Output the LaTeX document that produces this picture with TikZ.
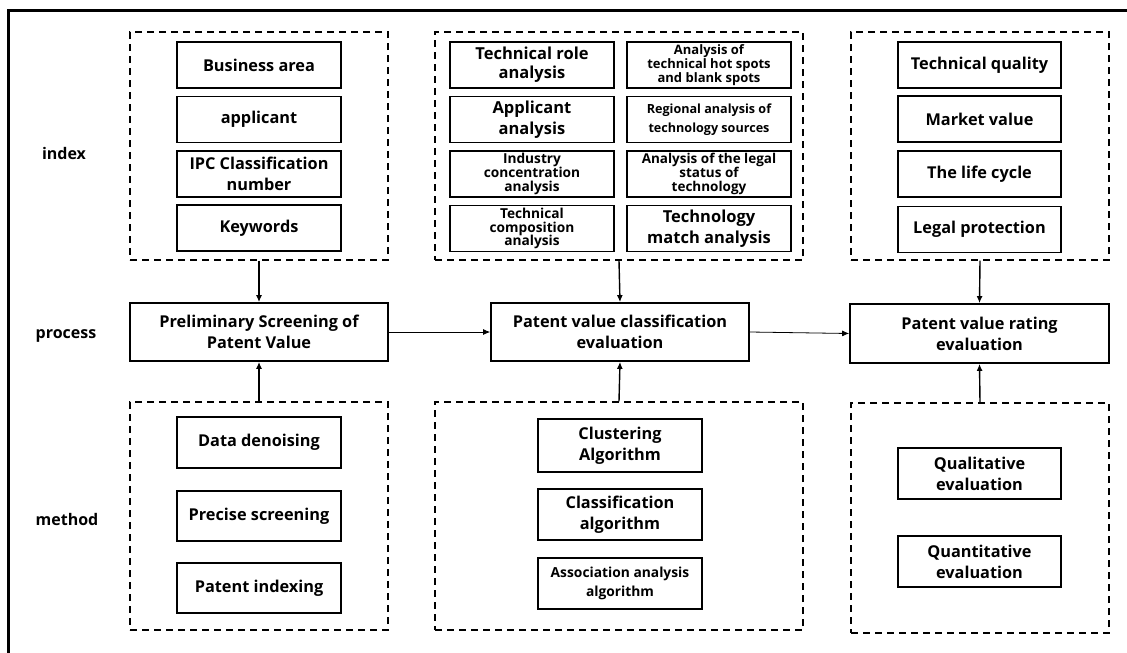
\documentclass[tikz,border=0pt]{standalone}
\usepackage{fontspec}
\setmainfont{Open Sans}
\usetikzlibrary{arrows.meta}
\newcommand{\fs}[2]{\fontsize{#1}{#2}\selectfont}
\tikzset{
  x=1pt,y=-1pt,
  inbox/.style={draw, line width=1.7pt, align=center, inner sep=0pt, font=\bfseries\fs{16.3}{21}},
  grp/.style={draw, line width=1.4pt, dash pattern=on 7pt off 5pt, inner sep=0pt},
  procbox/.style={draw, line width=1.7pt, align=center, inner sep=0pt, minimum width=258pt, minimum height=58pt, font=\bfseries\fs{16.3}{21}},
  rowlab/.style={font=\bfseries\fs{16}{18}},
  varr/.style={line width=1.4pt, -{Latex[length=7pt,width=6pt]}},
  harr/.style={line width=0.8pt, -{Latex[length=7pt,width=6pt]}},
}
\begin{document}
\begin{tikzpicture}
\useasboundingbox (0,0) rectangle (1127,653);
% outer frame (top and left edges visible)
\draw[line width=3pt] (8,660) -- (8,10) -- (1135,10);

% row labels
\node[rowlab] (lidx) at (64,153) {index};
\node[rowlab] (lproc) at (66,336) {process};
\node[rowlab] (lmet) at (67,519) {method};

% ---------- column 1 ----------
\node[grp, minimum width=258pt, minimum height=228pt] (idx1) at (259,146) {};
\node[inbox, minimum width=164pt, minimum height=46pt] (b11) at (259,65) {Business area};
\node[inbox, minimum width=164pt, minimum height=46pt] (b12) at (259,119.5) {applicant};
\node[inbox, minimum width=164pt, minimum height=46pt] (b13) at (259,174) {IPC Classification\\number};
\node[inbox, minimum width=164pt, minimum height=46pt] (b14) at (259,228) {Keywords};

\node[procbox] (proc1) at (259,332) {Preliminary Screening of\\Patent Value};

\node[grp, minimum width=258pt, minimum height=228pt] (met1) at (259,516) {};
\node[inbox, minimum width=164pt, minimum height=51pt] (m11) at (259,442.5) {Data denoising};
\node[inbox, minimum width=164pt, minimum height=50pt] (m12) at (259,516) {Precise screening};
\node[inbox, minimum width=164pt, minimum height=50pt] (m13) at (259,588) {Patent indexing};

% ---------- column 2 ----------
\node[grp, minimum width=368pt, minimum height=228pt] (idx2) at (619,146) {};
\node[inbox, minimum width=164pt, minimum height=46pt, font=\bfseries\fs{16.5}{19}] (c11) at (532,65) {Technical role\\analysis};
\node[inbox, minimum width=164pt, minimum height=46pt, font=\bfseries\fs{16.5}{21}] (c12) at (532,119.5) {Applicant\\analysis};
\node[inbox, minimum width=164pt, minimum height=46pt, font=\bfseries\fs{13.7}{13.8}] (c13) at (532,174) {Industry\\concentration\\analysis};
\node[inbox, minimum width=164pt, minimum height=46pt, font=\bfseries\fs{13.7}{13.8}] (c14) at (532,228.5) {Technical\\composition\\analysis};
\node[inbox, minimum width=164pt, minimum height=46pt, font=\bfseries\fs{13}{13.8}] (c21) at (709,65) {Analysis of\\technical hot spots\\and blank spots};
\node[inbox, minimum width=164pt, minimum height=46pt, font=\bfseries\fs{12.6}{19}] (c22) at (709,119.5) {Regional analysis of\\technology sources};
\node[inbox, minimum width=164pt, minimum height=46pt, font=\bfseries\fs{13.5}{14}] (c23) at (709,174) {Analysis of the legal\\status of\\technology};
\node[inbox, minimum width=164pt, minimum height=46pt, font=\bfseries\fs{16.5}{21}] (c24) at (709,228.5) {Technology\\match analysis};

\node[procbox] (proc2) at (620,332) {Patent value classification\\evaluation};

\node[grp, minimum width=368pt, minimum height=228pt] (met2) at (619,516) {};
\node[inbox, minimum width=164pt, minimum height=53pt] (m21) at (620,445.5) {Clustering\\Algorithm};
\node[inbox, minimum width=164pt, minimum height=51pt] (m22) at (620,514.5) {Classification\\algorithm};
\node[inbox, minimum width=164pt, minimum height=51pt, font=\bfseries\fs{13.8}{19}] (m23) at (620,583.5) {Association analysis\\algorithm};

% ---------- column 3 ----------
\node[grp, minimum width=258pt, minimum height=228pt] (idx3) at (980,146) {};
\node[inbox, minimum width=163pt, minimum height=46pt] (d11) at (979.5,65) {Technical quality};
\node[inbox, minimum width=163pt, minimum height=46pt] (d12) at (979.5,119) {Market value};
\node[inbox, minimum width=163pt, minimum height=46pt] (d13) at (979.5,174) {The life cycle};
\node[inbox, minimum width=163pt, minimum height=46pt] (d14) at (979.5,229.5) {Legal protection};

\node[procbox, minimum width=259pt, minimum height=59pt] (proc3) at (979.5,333.5) {Patent value rating\\evaluation};

\node[grp, minimum width=258pt, minimum height=230pt] (met3) at (980,518) {};
\node[inbox, minimum width=163pt, minimum height=51pt] (m31) at (979.5,473.5) {Qualitative\\evaluation};
\node[inbox, minimum width=163pt, minimum height=51pt] (m32) at (979.5,561.5) {Quantitative\\evaluation};

% ---------- connectors ----------
\draw[varr] (idx1.south) -- (proc1.north);
\draw[varr] (met1.north) -- (proc1.south);
\draw[varr] (idx2.south) -- (proc2.north);
\draw[varr] (met2.north) -- (proc2.south);
\draw[varr] (idx3.south) -- (proc3.north);
\draw[varr] (met3.north) -- (proc3.south);
\draw[harr] (proc1.east) -- (proc2.west);
\draw[harr] (proc2.east) -- (proc3.west);
\end{tikzpicture}
\end{document}
